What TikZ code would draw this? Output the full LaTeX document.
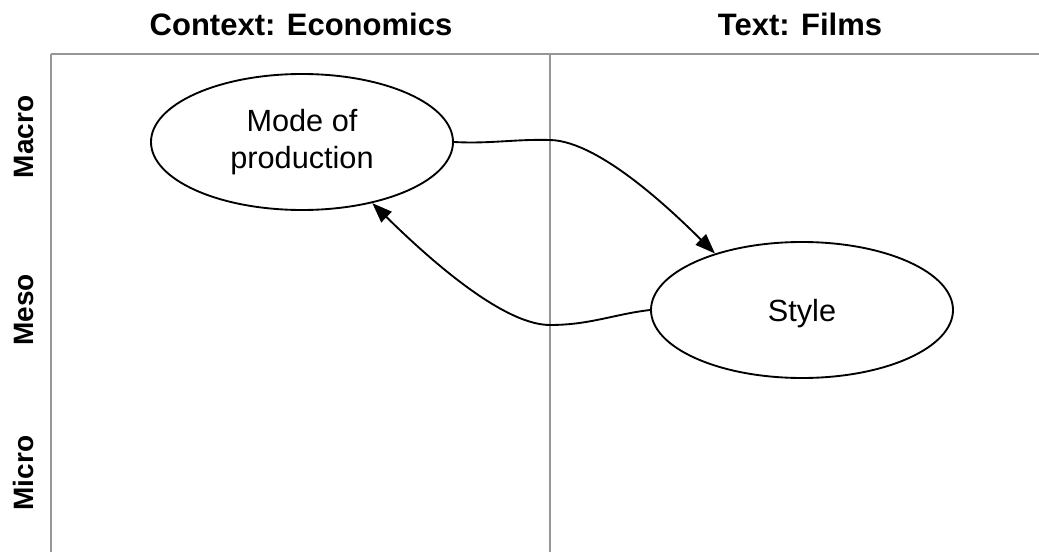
\documentclass[tikz,border=0pt]{standalone}
\usepackage{fontspec}
\setmainfont{Liberation Sans}
\usetikzlibrary{shapes.geometric,arrows.meta}
\definecolor{gridgray}{RGB}{150,150,150}
\begin{document}
\begin{tikzpicture}[x=0.75pt,y=-0.75pt,
  grid/.style={draw=gridgray,line width=1.7pt},
  ell/.style={ellipse,draw,line width=1.4pt,minimum width=226.5pt,minimum height=102pt,
    inner sep=0pt,align=center,font=\fontsize{23}{27.75}\selectfont},
  head/.style={font=\bfseries\fontsize{23.25}{28}\selectfont,anchor=base,inner sep=0pt},
  lvl/.style={font=\bfseries\fontsize{21}{25}\selectfont,rotate=90,anchor=base,inner sep=0pt},
  arr/.style={line width=1.4pt,-{Triangle[length=15pt,width=11pt]}}]
\useasboundingbox (0,0) rectangle (1039,552);
% grid
\coordinate (tl) at (51,54);
\coordinate (tr) at (1039,54);
\coordinate (bl) at (51,552);
\coordinate (tm) at (550,54);
\coordinate (bm) at (550,552);
\draw[grid] (tl) -- (tr);
\draw[grid] (tl) -- (bl);
\draw[grid] (tm) -- (bm);
% headings
\node[head] (hctx) at (301,36) {Context: Economics};
\node[head] (htxt) at (800,36) {Text: Films};
% level labels
\node[lvl] (macro) at (33,137) {Macro};
\node[lvl] (meso) at (33,310) {Meso};
\node[lvl] (micro) at (33,473) {Micro};
% ellipses
\node[ell] (mode) at (302,142) {Mode of\\production};
\node[ell,text depth=0pt] (style) at (802,310) {Style};
% connectors
\coordinate (m1) at (550,140);
\coordinate (m2) at (550,325);
\draw[arr] (mode.east) .. controls (490,144) and (515,139) .. (m1)
  .. controls (600,141) and (675,214) .. (style.147);
\draw[arr] (style.west) .. controls (615,314) and (590,325) .. (m2)
  .. controls (500,325) and (420,250) .. (mode.-41);
\end{tikzpicture}
\end{document}
